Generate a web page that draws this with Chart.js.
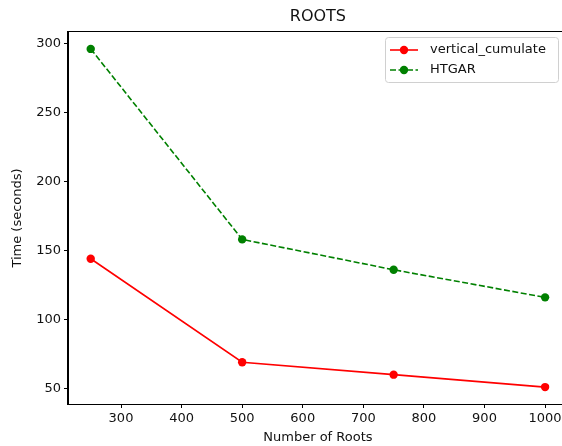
<!DOCTYPE html>
<html>
<head>
<meta charset="utf-8">
<script src="https://cdn.jsdelivr.net/npm/chart.js@4/dist/chart.umd.min.js"></script>
<style>
html,body{margin:0;padding:0;background:#fff;overflow:hidden;}
/* wider than the window: the plot's right spine sits just past the picture edge */
#wrap{position:relative;width:572px;height:446px;}
</style>
</head>
<body>
<div id="wrap"><canvas id="rootsChart"></canvas></div>
<script>
// ---------------- data ----------------
const roots = [250, 500, 750, 1000];
const verticalCumulate = [144, 69, 60, 51];
const htgar = [296, 158, 136, 116];
const xTicks = [300, 400, 500, 600, 700, 800, 900, 1000];
const yTicks = [50, 100, 150, 200, 250, 300];

const chartTitle = "ROOTS";
const xLabel = "Number of Roots";
const yLabel = "Time (seconds)";

const FONT = "'DejaVu Sans', sans-serif";

// ---------------- text + frame + legend ----------------
const decorations = {
  id: "decorations",
  afterDraw(chart) {
    const ctx = chart.ctx;
    const a = chart.chartArea;
    ctx.save();

    // frame (top / right spines)
    ctx.strokeStyle = "#000";
    ctx.lineWidth = 1;
    ctx.strokeRect(a.left - 0.5, a.top - 0.5, a.right - a.left + 1, a.bottom - a.top + 1);

    ctx.fillStyle = "#111";
    ctx.textAlign = "center";
    ctx.textBaseline = "middle";

    // title
    ctx.font = "16px " + FONT;
    ctx.fillText(chartTitle, (a.left + a.right) / 2, 17);

    // axis labels
    ctx.font = "13px " + FONT;
    ctx.fillText(xLabel, (a.left + a.right) / 2, 438);
    ctx.save();
    ctx.translate(18, (a.top + a.bottom) / 2);
    ctx.rotate(-Math.PI / 2);
    ctx.fillText(yLabel, 0, 0);
    ctx.restore();

    // legend
    const bx = 385.5, by = 37.5, bw = 173, bh = 45;
    ctx.fillStyle = "rgba(255,255,255,0.8)";
    ctx.strokeStyle = "#d0d0d0";
    ctx.lineWidth = 1;
    ctx.beginPath();
    ctx.roundRect(bx, by, bw, bh, 3);
    ctx.fill();
    ctx.stroke();

    chart.data.datasets.forEach(function(ds, i) {
      const y = 50 + i * 20;
      ctx.strokeStyle = ds.borderColor;
      ctx.lineWidth = ds.borderWidth;
      ctx.setLineDash(ds.borderDash || []);
      ctx.beginPath();
      ctx.moveTo(390, y);
      ctx.lineTo(418, y);
      ctx.stroke();
      ctx.setLineDash([]);
      ctx.fillStyle = ds.pointBackgroundColor;
      ctx.beginPath();
      ctx.arc(404, y, ds.pointRadius, 0, Math.PI * 2);
      ctx.fill();
      ctx.fillStyle = "#111";
      ctx.textAlign = "left";
      ctx.font = "13px " + FONT;
      ctx.fillText(ds.label, 430, y);
    });

    ctx.restore();
  }
};

// ---------------- chart ----------------
new Chart(document.getElementById("rootsChart"), {
  type: "line",
  data: {
    datasets: [
      {
        label: "vertical_cumulate",
        data: roots.map((x, i) => ({ x: x, y: verticalCumulate[i] })),
        borderColor: "#ff0000",
        backgroundColor: "#ff0000",
        pointBackgroundColor: "#ff0000",
        pointBorderWidth: 0,
        pointRadius: 4.2,
        borderWidth: 1.6,
        tension: 0,
        fill: false
      },
      {
        label: "HTGAR",
        data: roots.map((x, i) => ({ x: x, y: htgar[i] })),
        borderColor: "#008000",
        backgroundColor: "#008000",
        pointBackgroundColor: "#008000",
        pointBorderWidth: 0,
        pointRadius: 4.2,
        borderWidth: 1.6,
        borderDash: [6, 2.5],
        tension: 0,
        fill: false
      }
    ]
  },
  options: {
    responsive: true,
    maintainAspectRatio: false,
    animation: false,
    layout: { padding: { top: 32, right: 1, left: 0, bottom: 0 } },
    plugins: {
      legend: { display: false },
      title: { display: false },
      tooltip: { enabled: false }
    },
    scales: {
      x: {
        type: "linear",
        min: 212.5,
        max: 1037.5,
        afterFit(scale) {
          scale.height = 42;
          scale.paddingLeft = 0;
          scale.paddingRight = 0;
        },
        afterBuildTicks(scale) { scale.ticks = xTicks.map(v => ({ value: v })); },
        grid: { display: true, drawOnChartArea: false, drawTicks: true, tickLength: 4, color: "#000", lineWidth: 1 },
        border: { display: true, color: "#000", width: 1 },
        ticks: {
          color: "#111", font: { family: FONT, size: 13 }, padding: 3, maxRotation: 0, autoSkip: false,
          callback: v => String(v)
        }
      },
      y: {
        type: "linear",
        min: 38.75,
        max: 308.25,
        afterFit(scale) {
          scale.width = 68;
          scale.paddingTop = 0;
          scale.paddingBottom = 0;
        },
        afterBuildTicks(scale) { scale.ticks = yTicks.map(v => ({ value: v })); },
        grid: { display: true, drawOnChartArea: false, drawTicks: true, tickLength: 4, color: "#000", lineWidth: 1 },
        border: { display: true, color: "#000", width: 1 },
        ticks: { color: "#111", font: { family: FONT, size: 13 }, padding: 3, autoSkip: false }
      }
    }
  },
  plugins: [decorations]
});
</script>
</body>
</html>
